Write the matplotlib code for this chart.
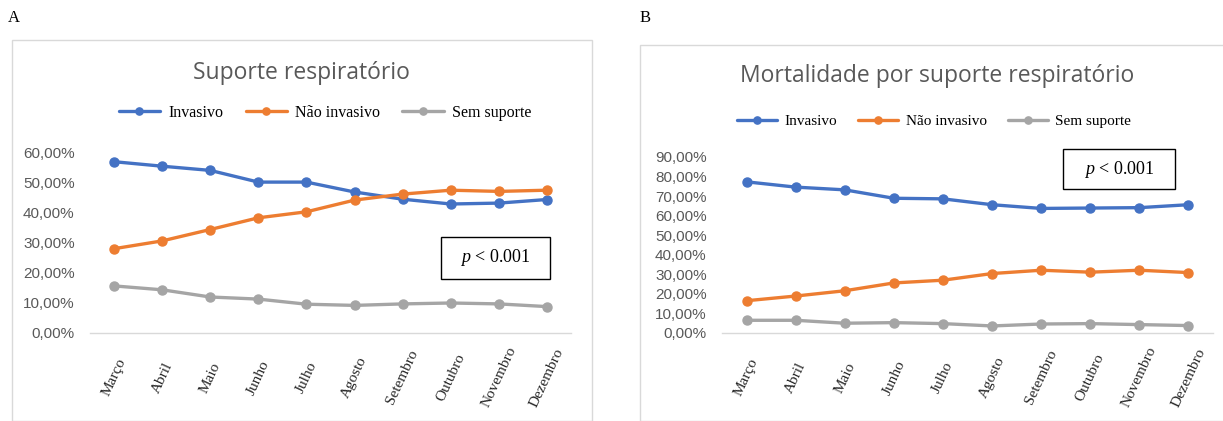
import numpy as np
import matplotlib.pyplot as plt
from matplotlib.patches import Rectangle
from matplotlib.ticker import FuncFormatter

meses = ['Março', 'Abril', 'Maio', 'Junho', 'Julho', 'Agosto',
         'Setembro', 'Outubro', 'Novembro', 'Dezembro']

# painel A - suporte respiratorio (%)
a_invasivo = [57.1, 55.6, 54.2, 50.3, 50.3, 47.0, 44.6, 43.0, 43.3, 44.5]
a_nao_invasivo = [28.1, 30.7, 34.5, 38.4, 40.4, 44.3, 46.3, 47.6, 47.2, 47.6]
a_sem_suporte = [15.7, 14.4, 12.0, 11.3, 9.6, 9.2, 9.7, 10.0, 9.7, 8.8]

# painel B - mortalidade por suporte respiratorio (%)
b_invasivo = [77.3, 74.6, 73.2, 68.9, 68.6, 65.6, 63.7, 63.9, 64.1, 65.6]
b_nao_invasivo = [16.5, 18.9, 21.6, 25.6, 27.0, 30.4, 32.1, 31.1, 32.1, 30.9]
b_sem_suporte = [6.5, 6.5, 5.0, 5.3, 4.8, 3.6, 4.6, 4.8, 4.3, 3.8]

series_nomes = ['Invasivo', 'Não invasivo', 'Sem suporte']
cores = ['#4472C4', '#ED7D31', '#A5A5A5']

plt.rcParams['mathtext.fontset'] = 'custom'
plt.rcParams['mathtext.it'] = 'Liberation Serif:italic'
plt.rcParams['mathtext.rm'] = 'Liberation Serif'

W, H = 1223, 421
fig = plt.figure(figsize=(W / 100, H / 100), dpi=100)

def px_axes(x0, x1, ytop, ybot):
    return fig.add_axes([x0 / W, (H - ybot) / H, (x1 - x0) / W, (ybot - ytop) / H])

def pct(v, pos):
    return ('%.2f%%' % v).replace('.', ',')

def painel(box, ax_px, dados, ymax, ystep, titulo, title_xy, leg_xy, pbox, letra, leg_fs):
    # caixa do grafico
    fig.patches.append(Rectangle((box[0] / W, 0), (box[1] - box[0]) / W, (H - box[2]) / H,
                                 transform=fig.transFigure, fill=False,
                                 edgecolor='#D9D9D9', lw=1.0))
    fig.text(letra[1] / W, 1 - letra[2] / H, letra[0], family='Liberation Serif',
             fontsize=12, ha='left', va='center')
    ax = px_axes(*ax_px)
    x = np.arange(len(meses))
    for vals, nome, c in zip(dados, series_nomes, cores):
        ax.plot(x, vals, color=c, lw=2.4, marker='o', ms=6.5, label=nome,
                solid_capstyle='round')
    ax.set_xlim(-0.5, len(meses) - 0.5)
    ax.set_ylim(0, ymax)
    ax.set_yticks(np.arange(0, ymax + 0.01, ystep))
    ax.yaxis.set_major_formatter(FuncFormatter(pct))
    ax.set_xticks(x)
    # rotulos centrados ~45 px abaixo do eixo, como no Excel
    ax.set_xticklabels(meses, rotation=65, ha='center', va='center', rotation_mode='anchor',
                       family='Liberation Serif', fontsize=11, color='#262626')
    for lab in ax.get_yticklabels():
        lab.set_family('Liberation Sans')
        lab.set_fontsize(11)
        lab.set_color('#595959')
    ax.tick_params(axis='y', length=0, pad=11)
    ax.tick_params(axis='x', length=0, pad=32)
    for s in ['top', 'right', 'left']:
        ax.spines[s].set_visible(False)
    ax.spines['bottom'].set_color('#D9D9D9')
    ax.spines['bottom'].set_linewidth(1.0)
    ax.patch.set_alpha(0)
    fig.text(title_xy[0] / W, 1 - title_xy[1] / H, titulo, family='Open Sans',
             fontsize=16.5, color='#595959', ha='center', va='center')
    handles, labels = ax.get_legend_handles_labels()
    fig.legend(handles, labels, loc='center', bbox_to_anchor=(leg_xy[0] / W, 1 - leg_xy[1] / H),
               ncol=3, frameon=False, prop={'family': 'Liberation Serif', 'size': leg_fs},
               handlelength=2.6, columnspacing=1.4, handletextpad=0.5, markerscale=0.8)
    # caixa do valor p
    fig.patches.append(Rectangle((pbox[0] / W, 1 - pbox[3] / H), (pbox[1] - pbox[0]) / W,
                                 (pbox[3] - pbox[2]) / H, transform=fig.transFigure,
                                 fill=True, facecolor='white', edgecolor='black', lw=1.0))
    fig.text((pbox[0] + pbox[1]) / 2 / W, 1 - (pbox[2] + pbox[3]) / 2 / H,
             r'$\it{p}$ < 0.001', family='Liberation Serif', fontsize=13,
             ha='center', va='center', zorder=5)
    return ax

painel((12, 592, 40), (90, 571, 153, 333),
       [a_invasivo, a_nao_invasivo, a_sem_suporte],
       60, 10, 'Suporte respiratório', (301, 73), (325, 113),
       (441, 550, 237, 279), ('A', 8, 18), 11.5)

painel((640, 1260, 45), (722, 1213, 157, 333),
       [b_invasivo, b_nao_invasivo, b_sem_suporte],
       90, 10, 'Mortalidade por suporte respiratório', (937, 76), (934, 121),
       (1063, 1175, 149, 189), ('B', 640, 18), 11)

plt.savefig('out.png', dpi=100)
